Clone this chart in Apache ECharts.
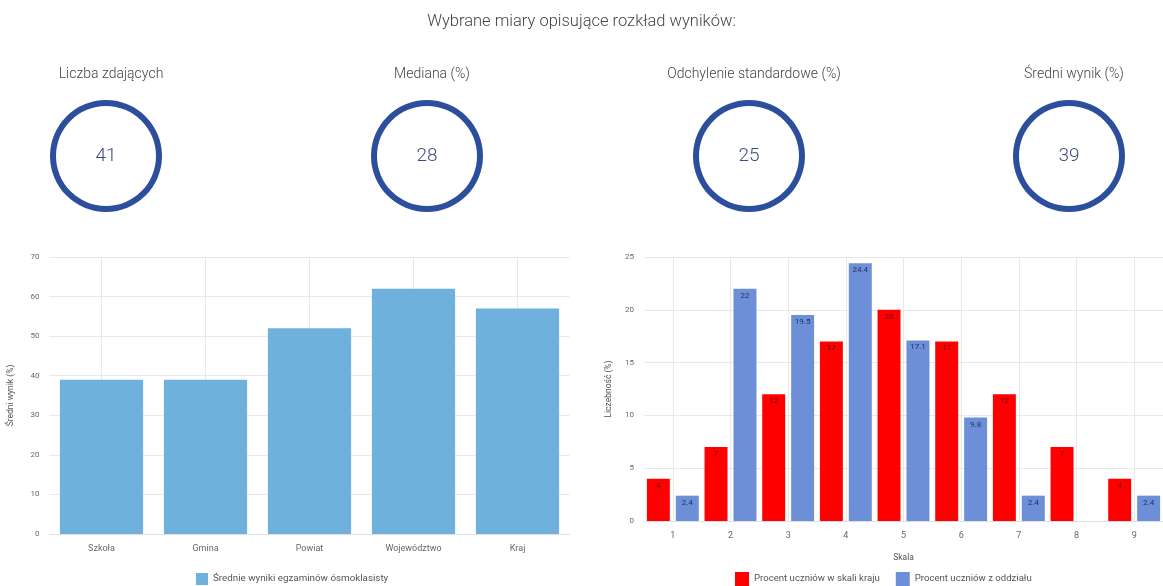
<!DOCTYPE html>
<html>
<head>
<meta charset="utf-8">
<script src="https://cdn.jsdelivr.net/npm/echarts@6/dist/echarts.min.js"></script>
<style>
html,body{margin:0;padding:0;background:#fff;}
#main{width:1163px;height:586px;}
</style>
</head>
<body>
<div id="main"></div>
<script>
// ---- data ----
const pageTitle = 'Wybrane miary opisujące rozkład wyników:';
const kpiLabels = ['Liczba zdających', 'Mediana (%)', 'Odchylenie standardowe (%)', 'Średni wynik (%)'];
const kpiValues = [41, 28, 25, 39];

const levelCategories = ['Szkoła', 'Gmina', 'Powiat', 'Województwo', 'Kraj'];
const levelValues = [39, 39, 52, 62, 57];
const levelSeriesName = 'Średnie wyniki egzaminów ósmoklasisty';

const scaleCategories = ['1', '2', '3', '4', '5', '6', '7', '8', '9'];
const countryPercent = [4, 7, 12, 17, 20, 17, 12, 7, 4];
const classPercent = [2.4, 22, 19.5, 24.4, 17.1, 9.8, 2.4, 0, 2.4];
const countryName = 'Procent uczniów w skali kraju';
const className = 'Procent uczniów z oddziału';

// ---- chart ----
const chart = echarts.init(document.getElementById('main'), null, {renderer: 'canvas'});
const FONT = 'Roboto';
const kpiX = [106, 427, 749, 1069];

const titles = [{
  text: pageTitle, left: 'center', top: 8,
  textStyle: {fontFamily: FONT, fontSize: 16.5, fontWeight: 300, color: '#444'}
}];
kpiLabels.forEach((t, i) => {
  titles.push({
    text: t, left: kpiX[i], top: 62, textAlign: 'center',
    textStyle: {fontFamily: FONT, fontSize: 14, fontWeight: 300, color: '#444'}
  });
});

const pies = kpiValues.map((v, i) => ({
  type: 'pie', silent: true,
  center: [kpiX[i], 156], radius: [50, 56],
  startAngle: 90,
  itemStyle: {color: '#2c4e9c'},
  label: {show: true, position: 'center', formatter: '{c}', fontFamily: FONT, fontSize: 19, fontWeight: 300, color: '#3d4c80'},
  labelLine: {show: false},
  emphasis: {disabled: true},
  data: [{value: v, name: kpiLabels[i]}]
}));

const axisLabelStyle = {fontFamily: FONT, color: '#666'};
const gridLine = {show: true, lineStyle: {color: '#e8e8e8', width: 1}};

const option = {
  animation: false,
  title: titles,
  grid: [
    {left: 49.5, top: 257, width: 520, height: 277, containLabel: false},
    {left: 644, top: 257, width: 519, height: 264, containLabel: false}
  ],
  legend: [
    {
      data: [levelSeriesName], left: 191, top: 568,
      itemWidth: 12, itemHeight: 12, itemGap: 20,
      icon: 'rect',
      textStyle: {fontFamily: FONT, fontSize: 9.8, color: '#555'}
    },
    {
      data: [countryName, className], left: 730, top: 567,
      itemWidth: 14, itemHeight: 14, itemGap: 16,
      icon: 'rect',
      textStyle: {fontFamily: FONT, fontSize: 9.6, color: '#555'}
    }
  ],
  xAxis: [
    {
      type: 'category', gridIndex: 0, data: levelCategories,
      axisLine: {show: true, lineStyle: {color: '#e0e0e0'}},
      axisTick: {show: false},
      axisLabel: Object.assign({fontSize: 9, margin: 10}, axisLabelStyle),
      splitLine: Object.assign({alignWithLabel: true}, gridLine)
    },
    {
      type: 'category', gridIndex: 1, data: scaleCategories,
      name: 'Skala', nameLocation: 'middle', nameGap: 32,
      nameTextStyle: {fontFamily: FONT, fontSize: 8.5, color: '#555'},
      axisLine: {show: true, lineStyle: {color: '#e0e0e0'}},
      axisTick: {show: false},
      axisLabel: Object.assign({fontSize: 9, margin: 10}, axisLabelStyle),
      splitLine: Object.assign({alignWithLabel: true}, gridLine)
    }
  ],
  yAxis: [
    {
      type: 'value', gridIndex: 0, min: 0, max: 70, interval: 10,
      name: 'Średni wynik (%)', nameLocation: 'middle', nameGap: 34,
      nameTextStyle: {fontFamily: FONT, fontSize: 8.5, color: '#555'},
      axisLine: {show: false}, axisTick: {show: false},
      axisLabel: Object.assign({fontSize: 8, margin: 10}, axisLabelStyle),
      splitLine: gridLine
    },
    {
      type: 'value', gridIndex: 1, min: 0, max: 25, interval: 5,
      name: 'Liczebność (%)', nameLocation: 'middle', nameGap: 31,
      nameTextStyle: {fontFamily: FONT, fontSize: 8.5, color: '#555'},
      axisLine: {show: false}, axisTick: {show: false},
      axisLabel: Object.assign({fontSize: 8, margin: 10}, axisLabelStyle),
      splitLine: gridLine
    }
  ],
  series: pies.concat([
    {
      type: 'bar', name: levelSeriesName, xAxisIndex: 0, yAxisIndex: 0,
      data: levelValues, barCategoryGap: '20%',
      itemStyle: {color: '#6fb1dd'},
      emphasis: {disabled: true}
    },
    {
      type: 'bar', name: countryName, xAxisIndex: 1, yAxisIndex: 1,
      data: countryPercent, barCategoryGap: '10%', barGap: '26%',
      itemStyle: {color: '#ff0000'},
      label: {show: true, position: 'insideTop', distance: 3, fontFamily: FONT, fontSize: 8, color: '#5a1010'},
      emphasis: {disabled: true}
    },
    {
      type: 'bar', name: className, xAxisIndex: 1, yAxisIndex: 1,
      data: classPercent, barCategoryGap: '10%', barGap: '26%',
      itemStyle: {color: '#6d8fd8'},
      label: {show: true, position: 'insideTop', distance: 3, fontFamily: FONT, fontSize: 8, color: '#1f2e5c',
        formatter: p => (p.value === 0 ? '' : String(p.value))},
      emphasis: {disabled: true}
    }
  ])
};
chart.setOption(option);
</script>
</body>
</html>
